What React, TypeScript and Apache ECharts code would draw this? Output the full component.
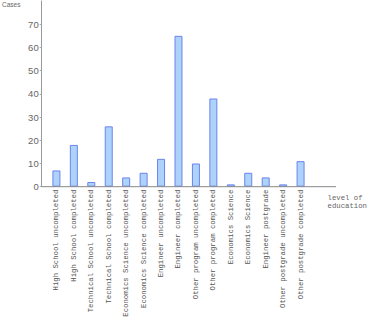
import React, { useEffect, useRef } from "react";
import * as echarts from "echarts";

const categories = [
  "High School uncompleted",
  "High School completed",
  "Technical School uncompleted",
  "Technical School completed",
  "Economics Science uncompleted",
  "Economics Science completed",
  "Engineer uncompleted",
  "Engineer completed",
  "Other program uncompleted",
  "Other program completed",
  "Economics Science",
  "Economics Science",
  "Engineer postgrade",
  "Other postgrade uncompleted",
  "Other postgrade completed",
];
const cases = [7, 18, 2, 26, 4, 6, 12, 65, 10, 38, 1, 6, 4, 1, 11];

const yMin = 0;
const yMax = 80;
const yStep = 10;

const MONO = "'Liberation Mono', 'Courier New', 'DejaVu Sans Mono', monospace";
const SANS = "'Liberation Sans', Arial, sans-serif";

export default function App() {
  const ref = useRef<HTMLDivElement>(null);
  useEffect(() => {
    if (!ref.current) return;
    const chart = echarts.init(ref.current, null, { renderer: "svg" });
    chart.setOption({
      animation: false,
      grid: { left: 47.7, right: 52.3, top: 1, bottom: 133.3, containLabel: false },
      xAxis: {
        type: "category",
        data: categories.map((c, i) => ({ value: c + "\u200b".repeat(i) })),
        boundaryGap: true,
        name: "level of\neducation",
        nameLocation: "end",
        nameGap: 18.3,
        nameTextStyle: {
          fontFamily: MONO,
          fontSize: 7.3,
          color: "#666",
          align: "left",
          verticalAlign: "top",
          lineHeight: 8,
          padding: [7, 0, 0, 0],
        },
        axisLine: { show: false },
        axisTick: { show: false },
        axisLabel: {
          rotate: 90,
          interval: 0,
          margin: 3,
          fontFamily: MONO,
          fontSize: 7.3,
          color: "#555",
          formatter: (v: string) => v.replace(/\u200b/g, ""),
        },
        splitLine: { show: false },
      },
      yAxis: {
        type: "value",
        min: yMin,
        max: yMax,
        interval: yStep,
        offset: 6,
        axisLine: { show: true, lineStyle: { color: "#999", width: 1 } },
        axisTick: { show: true, length: 2, lineStyle: { color: "#aaa" } },
        axisLabel: {
          showMaxLabel: false,
          margin: 3,
          fontFamily: SANS,
          fontSize: 9.5,
          color: "#666",
        },
        splitLine: { show: false },
      },
      graphic: [
        {
          type: "line",
          shape: { x1: 41.7, y1: 186.7, x2: 336, y2: 186.7 },
          style: { stroke: "#888", lineWidth: 1 },
          z: 10,
        },
        {
          type: "text",
          x: 2,
          y: 1,
          style: {
            text: "Cases",
            fontFamily: SANS,
            fontSize: 6.5,
            fill: "#666",
          },
        },
      ],
      series: [
        {
          type: "bar",
          data: cases,
          barWidth: 8,
          itemStyle: {
            color: "#aed3fa",
            borderColor: "#6b83ee",
            borderWidth: 1,
          },
        },
      ],
    });
    return () => chart.dispose();
  }, []);
  return (
    <div
      ref={ref}
      style={{ position: "absolute", left: 0, top: 0, width: 370, height: 320 }}
    />
  );
}
